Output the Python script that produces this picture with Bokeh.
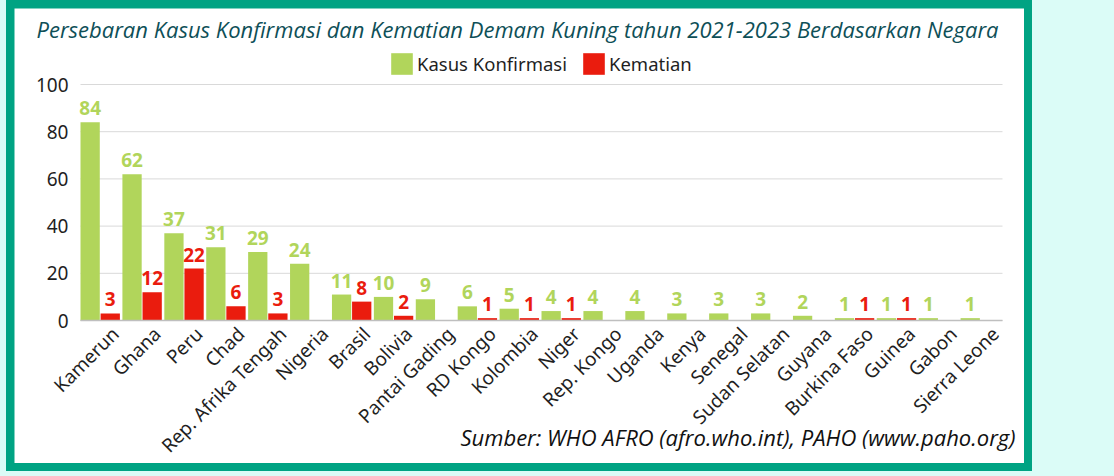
import math
from bokeh.plotting import figure
from bokeh.models import (Range1d, ColumnDataSource, Legend, LegendItem, Label,
                          FixedTicker, LinearAxis, GlobalInlineStyleSheet)
from bokeh.transform import dodge
from bokeh.layouts import column
from bokeh.core.properties import value
from bokeh.embed import file_html
from bokeh.resources import INLINE

# ---- data ----
countries = ["Kamerun", "Ghana", "Peru", "Chad", "Rep. Afrika Tengah", "Nigeria", "Brasil",
             "Bolivia", "Pantai Gading", "RD Kongo", "Kolombia", "Niger", "Rep. Kongo",
             "Uganda", "Kenya", "Senegal", "Sudan Selatan", "Guyana", "Burkina Faso",
             "Guinea", "Gabon", "Sierra Leone"]
kasus = [84, 62, 37, 31, 29, 24, 11, 10, 9, 6, 5, 4, 4, 4, 3, 3, 3, 2, 1, 1, 1, 1]
kematian = [3, 12, 22, 6, 3, 0, 8, 2, 0, 1, 1, 1, 0, 0, 0, 0, 0, 0, 1, 1, 0, 0]
y_ticks = [0, 20, 40, 60, 80, 100]
series_names = ["Kasus Konfirmasi", "Kematian"]
title_text = "Persebaran Kasus Konfirmasi dan Kematian Demam Kuning tahun 2021-2023 Berdasarkan Negara"
source_text = "Sumber: WHO AFRO (afro.who.int), PAHO (www.paho.org)"

GREEN = "#b1d55b"
RED = "#ea1c0e"
FRAME = "#00a383"
BG = "#dbfcf7"
TITLE_C = "#0e4f57"
TXT = "#1f1f1f"
FONT = "Noto Sans"

# ---- layout (pixels inside the white card) ----
W, H = 1010, 455
PL, PR = 66, 988          # plot area left / right
PY0, PY100 = 312, 76      # pixel rows of value 0 and value 100
n = len(countries)
cat_w = (PR - PL) / n
ppu = (PY0 - PY100) / (y_ticks[-1] - y_ticks[0])

idx = list(range(n))
src = ColumnDataSource(dict(idx=idx, country=countries, kasus=kasus, kematian=kematian))

p = figure(x_range=Range1d(-0.5 - PL / cat_w, n - 0.5 + (W - PR) / cat_w),
           y_range=Range1d(-(H - PY0) / ppu, y_ticks[-1] + PY100 / ppu),
           width=W, height=H, output_backend="svg", toolbar_location=None,
           x_axis_location=None,
           min_border_left=0, min_border_right=0, min_border_top=0, min_border_bottom=0,
           background_fill_color="white", border_fill_color="white", outline_line_color=None)

# horizontal gridlines across the category area
p.segment(x0=-0.5, x1=n - 0.5, y0=y_ticks, y1=y_ticks, line_color="#d9d9d9", line_width=1)

OFF_K, OFF_M, BW = -0.27, 0.21, 0.46
r1 = p.vbar(x=dodge("idx", OFF_K), top="kasus", width=BW,
            source=src, fill_color=GREEN, line_color=None)
r2 = p.vbar(x=dodge("idx", OFF_M), top="kematian", width=BW,
            source=src, fill_color=RED, line_color=None)

# data labels (non-zero values only)
lk = [(i, v) for i, v in zip(idx, kasus) if v > 0]
lm = [(i, v) for i, v in zip(idx, kematian) if v > 0]
src_lk = ColumnDataSource(dict(idx=[a for a, _ in lk], v=[b for _, b in lk], t=[str(b) for _, b in lk]))
src_lm = ColumnDataSource(dict(idx=[a for a, _ in lm], v=[b for _, b in lm], t=[str(b) for _, b in lm]))
for s, off, col in ((src_lk, OFF_K, GREEN), (src_lm, OFF_M, RED)):
    p.text(x=dodge("idx", off), y="v", text="t", source=s,
           text_font=value(FONT), text_font_size="19px", text_font_style="bold",
           text_color=col, text_align="center", text_baseline="bottom", y_offset=-7)

# y axis drawn at the left edge of the category area
p.yaxis.fixed_location = -0.5
p.yaxis.ticker = FixedTicker(ticks=y_ticks)
p.yaxis.axis_line_color = None
p.yaxis.major_tick_line_color = None
p.yaxis.minor_tick_line_color = None
p.yaxis.major_tick_in = 0
p.yaxis.major_tick_out = 0
p.yaxis.major_label_standoff = 12
p.yaxis.major_label_text_font = FONT
p.yaxis.major_label_text_font_size = "19px"
p.yaxis.major_label_text_color = TXT
p.ygrid.grid_line_color = None
p.xgrid.grid_line_color = None

# x axis (category names) at value 0, labels nudged right like the original
shift = 0.33
p.extra_x_ranges = {"lab": Range1d(p.x_range.start - shift, p.x_range.end - shift)}
xa = LinearAxis(x_range_name="lab", fixed_location=0,
                bounds=(-0.5 - shift, n - 0.5 - shift),
                ticker=FixedTicker(ticks=idx),
                major_label_overrides={i: c for i, c in zip(idx, countries)})
xa.axis_line_color = "#bfbfbf"
xa.axis_line_width = 1.5
xa.major_tick_line_color = None
xa.minor_tick_line_color = None
xa.major_tick_in = 0
xa.major_tick_out = 0
xa.major_label_standoff = 10
xa.major_label_orientation = math.pi / 4
xa.major_label_text_font = FONT
xa.major_label_text_font_size = "19px"
xa.major_label_text_color = TXT
p.add_layout(xa, "below")

# legend (position in pixels from the bottom-left of the card)
legend = Legend(items=[LegendItem(label=series_names[0], renderers=[r1]),
                       LegendItem(label=series_names[1], renderers=[r2])],
                orientation="horizontal", location=(374, 386),
                glyph_width=27, glyph_height=27, label_standoff=2, spacing=13,
                padding=0, margin=0, border_line_color=None, background_fill_alpha=0,
                label_text_font=FONT, label_text_font_size="18.5px", label_text_color=TXT)
p.add_layout(legend)

# title and source note
p.add_layout(Label(x=503, y=H - 20, x_units="screen", y_units="screen", text=title_text,
                   text_align="center", text_baseline="alphabetic",
                   text_font="Open Sans", text_font_size="22px", text_font_style="italic",
                   text_color=TITLE_C))
p.add_layout(Label(x=1001, y=H - 428, x_units="screen", y_units="screen", text=source_text,
                   text_align="right", text_baseline="alphabetic",
                   text_font="Open Sans", text_font_size="22px", text_font_style="italic",
                   text_color="#111111"))

page = column(p, margin=(0, 0, 0, 6),
              styles={"background-color": FRAME, "padding": "8px"},
              stylesheets=[GlobalInlineStyleSheet(css="body { background-color: %s; }" % BG)])

open("out.html", "w").write(file_html(page, INLINE))
